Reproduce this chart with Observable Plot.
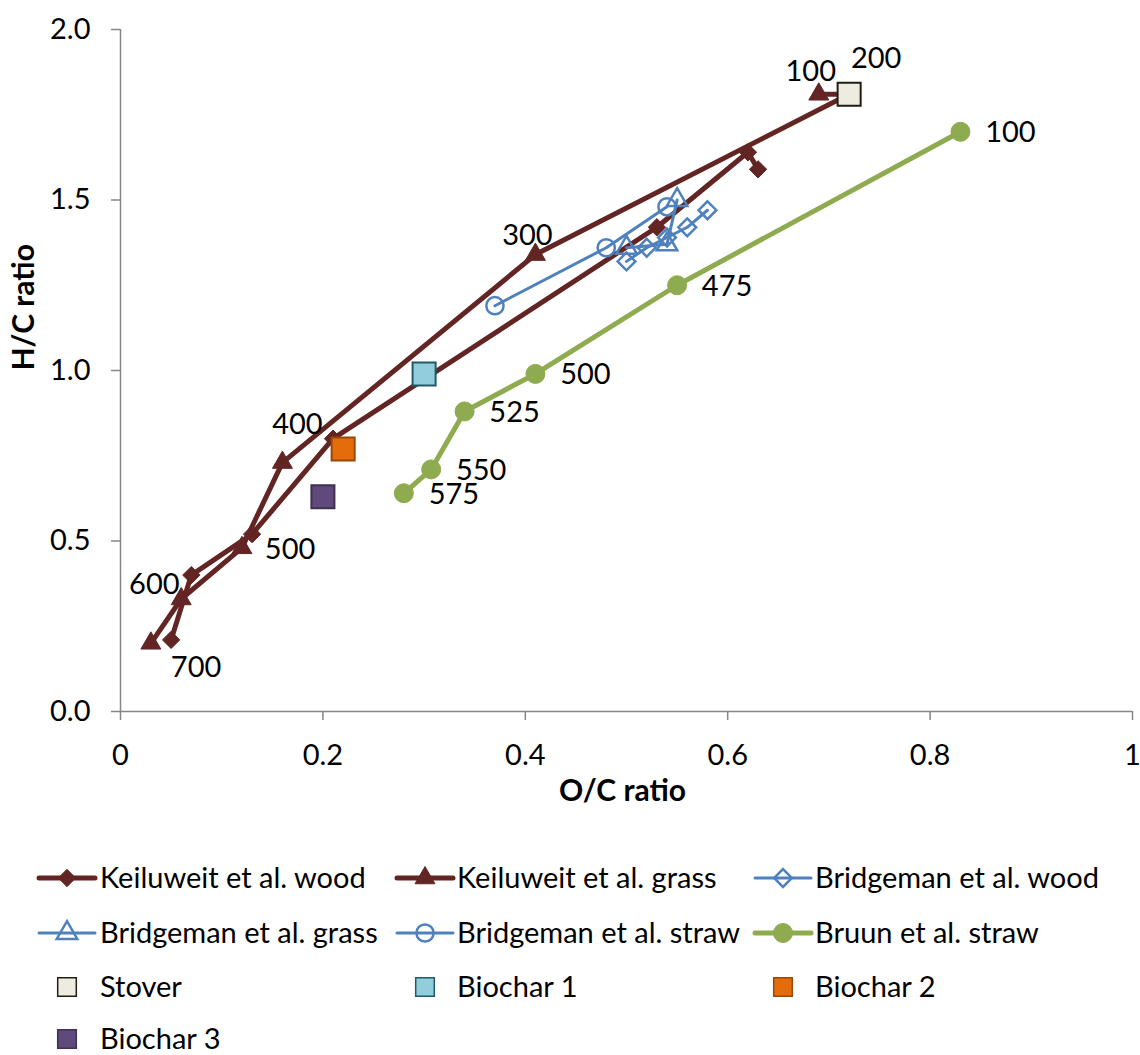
<!DOCTYPE html>
<html><head><meta charset="utf-8">
<script src="https://cdn.jsdelivr.net/npm/d3@7"></script>
<script src="https://cdn.jsdelivr.net/npm/@observablehq/plot@0.6"></script>
<style>
body{margin:0;background:#fff}
svg{display:block}
</style>
</head><body>
<div id="chart"></div>
<div id="legend"></div>
<script>
// ---------- data ----------
const xTicks = [0, 0.2, 0.4, 0.6, 0.8, 1];
const xTickLabels = ["0", "0.2", "0.4", "0.6", "0.8", "1"];
const yTicks = [0, 0.5, 1, 1.5, 2];
const yTickLabels = ["0.0", "0.5", "1.0", "1.5", "2.0"];
const xTitle = "O/C ratio";
const yTitle = "H/C ratio";

const keilWoodOC = [0.63, 0.62, 0.53, 0.21, 0.13, 0.07, 0.05];
const keilWoodHC = [1.59, 1.64, 1.42, 0.80, 0.52, 0.40, 0.21];
const keilGrassOC = [0.69, 0.72, 0.41, 0.16, 0.12, 0.06, 0.03];
const keilGrassHC = [1.81, 1.81, 1.34, 0.73, 0.48, 0.33, 0.20];
const keilTemps = ["100", "200", "300", "400", "500", "600", "700"];

const bridgeWoodOC = [0.58, 0.56, 0.54, 0.52, 0.50];
const bridgeWoodHC = [1.47, 1.42, 1.39, 1.36, 1.32];
const bridgeGrassOC = [0.55, 0.54, 0.50];
const bridgeGrassHC = [1.50, 1.37, 1.36];
const bridgeStrawOC = [0.54, 0.48, 0.37];
const bridgeStrawHC = [1.48, 1.36, 1.19];

const bruunOC = [0.83, 0.55, 0.41, 0.34, 0.307, 0.28];
const bruunHC = [1.70, 1.25, 0.99, 0.88, 0.71, 0.64];
const bruunTemps = ["100", "475", "500", "525", "550", "575"];

const singleNames = ["Stover", "Biochar 1", "Biochar 2", "Biochar 3"];
const singleOC = [0.72, 0.30, 0.22, 0.20];
const singleHC = [1.81, 0.99, 0.77, 0.63];

const seriesNames = ["Keiluweit et al. wood", "Keiluweit et al. grass", "Bridgeman et al. wood",
  "Bridgeman et al. grass", "Bridgeman et al. straw", "Bruun et al. straw"];

// ---------- styles ----------
const FONT = "Lato, 'Open Sans', sans-serif";
const FS = 29;
const AXIS = "#868686";
const KEIL = "#632523", BLUE = "#4f81bd", GREEN = "#8fab4f";
const seriesStyle = [
  {color: KEIL, lw: 5, symbol: "diamond2", fill: KEIL, r: 7.8, sw: 1},
  {color: KEIL, lw: 5, symbol: "triangle", fill: KEIL, r: 7.4, sw: 1},
  {color: BLUE, lw: 3, symbol: "diamond2", fill: "none", r: 8, sw: 2.5},
  {color: BLUE, lw: 3, symbol: "triangle2", fill: "none", r: 9.8, sw: 2.5},
  {color: BLUE, lw: 3, symbol: "circle", fill: "none", r: 8.6, sw: 2.5},
  {color: GREEN, lw: 5, symbol: "circle", fill: GREEN, r: 9.5, sw: 1}
];
const singleStyle = [
  {fill: "#eeece1", stroke: "#1f1d14"},
  {fill: "#92cddc", stroke: "#215968"},
  {fill: "#e46c0a", stroke: "#984807"},
  {fill: "#604a7b", stroke: "#3f3151"}
];
// label offsets (px) relative to the point they annotate
const keilLabelAnchor = [[1, 0], [1, 1], [1, 2], [1, 3], [0, 4], [0, 5], [0, 6]]; // [series(0 wood,1 grass), index]
const keilLabelOffset = [[-8, -23], [27, -36], [-8, -19], [15, -38], [38, 16], [-37, 10], [25, 28]];
const bruunLabelOffset = [50, 1];

// ---------- build ----------
const zip = (xs, ys) => xs.map((x, i) => ({x, y: ys[i]}));
const seriesData = [
  zip(keilWoodOC, keilWoodHC),
  zip(keilGrassOC, keilGrassHC),
  zip(bridgeWoodOC, bridgeWoodHC),
  zip(bridgeGrassOC, bridgeGrassHC),
  zip(bridgeStrawOC, bridgeStrawHC),
  zip(bruunOC, bruunHC)
];
const singles = singleNames.map((n, i) => ({name: n, x: singleOC[i], y: singleHC[i]}));

const marks = [
  Plot.ruleY([0], {stroke: AXIS, strokeWidth: 1.5}),
  Plot.ruleX([0], {stroke: AXIS, strokeWidth: 1.5}),
  Plot.axisX({ticks: xTicks, tickFormat: d => xTickLabels[xTicks.indexOf(d)], tickSize: 9, tickPadding: 24,
    stroke: AXIS, strokeWidth: 1.5, fill: "black", label: null}),
  Plot.axisY({ticks: yTicks, tickFormat: d => yTickLabels[yTicks.indexOf(d)], tickSize: 9, tickPadding: 21,
    stroke: AXIS, strokeWidth: 1.5, fill: "black", label: null}),
  Plot.text([xTitle], {frameAnchor: "bottom", dy: 89, dx: -4, fontWeight: "bold", fontSize: 30, fill: "black"}),
  Plot.text([yTitle], {frameAnchor: "left", dx: -96, rotate: -90, fontWeight: "bold", fontSize: 30, fill: "black"})
];

seriesData.forEach((d, i) => {
  const s = seriesStyle[i];
  marks.push(Plot.line(d, {x: "x", y: "y", stroke: s.color, strokeWidth: s.lw, strokeLinejoin: "round", strokeLinecap: "round"}));
  marks.push(Plot.dot(d, {x: "x", y: "y", symbol: s.symbol, r: s.r, fill: s.fill, stroke: s.color, strokeWidth: s.sw}));
});
singles.forEach((d, i) => {
  marks.push(Plot.dot([d], {x: "x", y: "y", symbol: "square", r: 13, fill: singleStyle[i].fill, stroke: singleStyle[i].stroke, strokeWidth: 2}));
});
keilTemps.forEach((t, i) => {
  const [s, k] = keilLabelAnchor[i];
  const p = seriesData[s][k];
  marks.push(Plot.text([{...p, t}], {x: "x", y: "y", text: "t", dx: keilLabelOffset[i][0], dy: keilLabelOffset[i][1], fill: "black"}));
});
marks.push(Plot.text(seriesData[5].map((p, i) => ({...p, t: bruunTemps[i]})),
  {x: "x", y: "y", text: "t", dx: bruunLabelOffset[0], dy: bruunLabelOffset[1], fill: "black"}));

const chart = Plot.plot({
  width: 1140, height: 840,
  marginLeft: 120, marginRight: 8, marginTop: 29, marginBottom: 129,
  x: {domain: [0, 1]},
  y: {domain: [0, 2]},
  style: {fontFamily: FONT, fontSize: FS + "px", background: "white", color: "black", overflow: "visible"},
  marks
});
document.getElementById("chart").appendChild(chart);

// ---------- legend ----------
const symbolTypes = {diamond2: d3.symbolDiamond2, triangle: d3.symbolTriangle, triangle2: d3.symbolTriangle2, circle: d3.symbolCircle, square: d3.symbolSquare};
const colSym = [67, 425, 783], colText = [100, 457, 815], rowY = [38, 93, 147, 199];
const legendItems = [];
seriesNames.forEach((n, i) => legendItems.push({name: n, kind: "series", style: seriesStyle[i]}));
singleNames.forEach((n, i) => legendItems.push({name: n, kind: "single", style: singleStyle[i]}));

const lsvg = d3.select("#legend").append("svg").attr("width", 1140).attr("height", 215)
  .style("font-family", FONT).style("font-size", FS + "px");
legendItems.forEach((it, i) => {
  const cx = colSym[i % 3], cy = rowY[Math.floor(i / 3)];
  const g = lsvg.append("g");
  if (it.kind === "series") {
    const s = it.style;
    g.append("line").attr("x1", cx - 28).attr("x2", cx + 28).attr("y1", cy).attr("y2", cy)
      .attr("stroke", s.color).attr("stroke-width", s.lw).attr("stroke-linecap", "round");
    g.append("path").attr("transform", `translate(${cx},${cy})`)
      .attr("d", d3.symbol(symbolTypes[s.symbol], Math.PI * s.r * s.r)())
      .attr("fill", s.fill).attr("stroke", s.color).attr("stroke-width", s.sw);
  } else {
    g.append("path").attr("transform", `translate(${cx},${cy})`)
      .attr("d", d3.symbol(d3.symbolSquare, Math.PI * 10.5 * 10.5)())
      .attr("fill", it.style.fill).attr("stroke", it.style.stroke).attr("stroke-width", 1.5);
  }
  g.append("text").attr("x", colText[i % 3]).attr("y", cy).attr("dy", "0.35em").attr("fill", "black").text(it.name);
});
</script>
</body></html>
